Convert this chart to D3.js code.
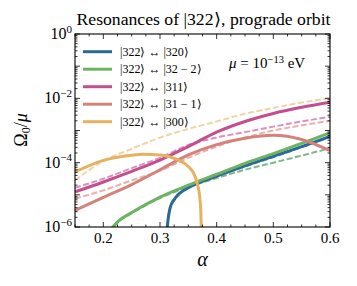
<!DOCTYPE html>
<html><head><meta charset="utf-8">
<script src="https://cdn.jsdelivr.net/npm/d3@7"></script>
</head><body style="margin:0"><svg id="c" width="357" height="286"></svg>
<script>
// ---- data (log10 of Omega0/mu) ----
const alphaGrid = [0.15,0.2,0.25,0.3,0.35,0.4,0.45,0.5,0.55,0.6];
const labels = ["|322⟩ ↔ |320⟩","|322⟩ ↔ |32 − 2⟩","|322⟩ ↔ |311⟩","|322⟩ ↔ |31 − 1⟩","|322⟩ ↔ |300⟩"];
const colors = ["#2a6a94","#6cb463","#c44f8f","#d4827a","#e6b25f"];
const dashColors = ["#7aa6c4","#5fa86a","#e08fbd","#eab0aa","#f2d4a4"];

const blueAlpha = [0.3115,0.314,0.318,0.325,0.335,0.35,0.4,0.45,0.5,0.55,0.6];
const blueSolid = [-6.3,-5.8,-5.4,-5.15,-4.95,-4.78,-4.42,-4.1,-3.8,-3.5,-3.18];
const blueDash  = [-6.3,-5.75,-5.36,-5.12,-4.93,-4.77,-4.43,-4.12,-3.83,-3.52,-3.2];

const greenAlpha = [0.21,0.225,0.25,0.3,0.35,0.4,0.45,0.5,0.55,0.6];
const greenSolid = [-6.15,-5.84,-5.55,-5.07,-4.7,-4.36,-4.02,-3.72,-3.4,-3.07];
const greenDash  = [-6.2,-5.87,-5.58,-5.1,-4.76,-4.48,-4.22,-4.0,-3.78,-3.55];

const magentaSolid = [-4.91,-4.6,-4.27,-3.92,-3.5,-3.05,-2.72,-2.47,-2.28,-2.12];
const magentaDash  = [-4.78,-4.5,-4.17,-3.85,-3.45,-3.22,-3.05,-2.88,-2.72,-2.57];

const salmonSolid = [-5.48,-5.08,-4.68,-4.22,-3.76,-3.44,-3.24,-3.15,-3.28,-3.63];
const salmonDash  = [-5.12,-4.86,-4.55,-4.25,-3.85,-3.5,-3.22,-3.0,-2.84,-2.7];

const orangeAlpha = [0.15,0.2,0.25,0.27,0.3,0.33,0.35,0.36,0.365,0.37,0.372,0.3735];
const orangeSolid = [-4.29,-3.93,-3.77,-3.74,-3.76,-3.9,-4.12,-4.35,-4.6,-5.05,-5.5,-6.4];
const orangeDash  = [-4.55,-3.95,-3.57,-3.22,-2.95,-2.72,-2.48,-2.3,-2.13,-2.0];

const xTicks = [0.2,0.3,0.4,0.5,0.6];
const yTickExps = [0,-2,-4,-6];

// ---- layout ----
const svg = d3.select("#c").style("font-family",'"Liberation Serif"');
const L=75,R=330,T=34,B=227;
const x = d3.scaleLinear().domain([0.15,0.6]).range([L,R]);
const y = d3.scaleLog().domain([1e-6,1]).range([B,T]);

svg.append("clipPath").attr("id","clip").append("rect").attr("x",L).attr("y",T).attr("width",R-L).attr("height",B-T);
const g = svg.append("g").attr("clip-path","url(#clip)");

const line = d3.line().x(d=>x(d[0])).y(d=>y(Math.pow(10,d[1]))).curve(d3.curveMonotoneX);
function zip(a,b){return a.map((v,i)=>[v,b[i]]);}

const series = [
  {a:blueAlpha,s:blueSolid,d:blueDash,i:0},
  {a:greenAlpha,s:greenSolid,d:greenDash,i:1},
  {a:alphaGrid,s:magentaSolid,d:magentaDash,i:2},
  {a:alphaGrid,s:salmonSolid,d:salmonDash,i:3},
  {a:orangeAlpha,s:orangeSolid,d:orangeDash,i:4,da:alphaGrid}
];
series.forEach(sr=>{
  g.append("path").attr("d",line(zip(sr.da||sr.a,sr.d))).attr("fill","none")
   .attr("stroke",dashColors[sr.i]).attr("stroke-width",2).attr("stroke-dasharray","6,2.5")
   .attr("opacity",sr.i===1?0.8:1);
});
series.forEach(sr=>{
  g.append("path").attr("d",line(zip(sr.a,sr.s))).attr("fill","none")
   .attr("stroke",colors[sr.i]).attr("stroke-width",3);
});

// ---- axes: ticks inward on all sides ----
const ax = svg.append("g").attr("stroke","#000");
const minorX = d3.range(0.15,0.6001,0.025);
minorX.forEach(v=>{
  const major = xTicks.some(t=>Math.abs(t-v)<1e-6);
  const len = major?5:2.5;
  ax.append("line").attr("x1",x(v)).attr("x2",x(v)).attr("y1",B).attr("y2",B-len).attr("stroke-width",0.8);
  ax.append("line").attr("x1",x(v)).attr("x2",x(v)).attr("y1",T).attr("y2",T+len).attr("stroke-width",0.8);
});
for(let e=-6;e<=0;e++){
  for(let m=1;m<=9;m++){
    const v=m*Math.pow(10,e);
    if(e===0 && m>1) continue;
    const len = m===1?5:2.5;
    ax.append("line").attr("x1",L).attr("x2",L+len).attr("y1",y(v)).attr("y2",y(v)).attr("stroke-width",0.8);
    ax.append("line").attr("x1",R).attr("x2",R-len).attr("y1",y(v)).attr("y2",y(v)).attr("stroke-width",0.8);
  }
}
svg.append("rect").attr("x",L).attr("y",T).attr("width",R-L).attr("height",B-T)
  .attr("fill","none").attr("stroke","#000").attr("stroke-width",1.1);

function T_(sel){return sel.append("text").style("font-family",'"Liberation Serif"');}

// x tick labels
xTicks.forEach(t=>{
  T_(svg).attr("x",x(t)).attr("y",243).attr("text-anchor","middle")
    .attr("font-size",15).text(d3.format(".1f")(t));
});
// y tick labels
yTickExps.forEach(e=>{
  const tx = T_(svg).attr("x",72).attr("y",y(Math.pow(10,e))+5).attr("text-anchor","end").attr("font-size",16);
  tx.append("tspan").text("10");
  tx.append("tspan").attr("dy",-6.5).attr("font-size",11).text(e===0?"0":"−"+(-e));
});

// axis labels
T_(svg).attr("x",x(0.375)).attr("y",266).attr("text-anchor","middle")
  .attr("font-size",20).attr("font-style","italic").text("α");
const yl = T_(svg).attr("transform","translate(27,130) rotate(-90)").attr("text-anchor","middle").attr("font-size",18);
yl.append("tspan").text("Ω");
yl.append("tspan").attr("font-size",12).attr("dy",3).text("0");
yl.append("tspan").attr("dy",-3).text("/");
yl.append("tspan").attr("font-style","italic").text("μ");

// title
T_(svg).attr("x",(L+R)/2+1).attr("y",25).attr("text-anchor","middle").attr("font-size",16.5)
  .attr("textLength",254).attr("lengthAdjust","spacingAndGlyphs").text("Resonances of |322⟩,  prograde orbit");

// mu label
const mu = T_(svg).attr("x",229).attr("y",68).attr("font-size",15);
mu.append("tspan").attr("font-style","italic").text("μ");
mu.append("tspan").text(" = 10");
mu.append("tspan").attr("dy",-5.5).attr("font-size",10.5).text("−13");
mu.append("tspan").attr("dy",5.5).text(" eV");

// legend
labels.forEach((lab,i)=>{
  const yy = 51.7 + i*17.5;
  svg.append("line").attr("x1",83).attr("x2",112).attr("y1",yy).attr("y2",yy)
    .attr("stroke",colors[i]).attr("stroke-width",3);
  T_(svg).attr("x",120).attr("y",yy+4).attr("font-size",12).text(lab);
});
</script></body></html>
